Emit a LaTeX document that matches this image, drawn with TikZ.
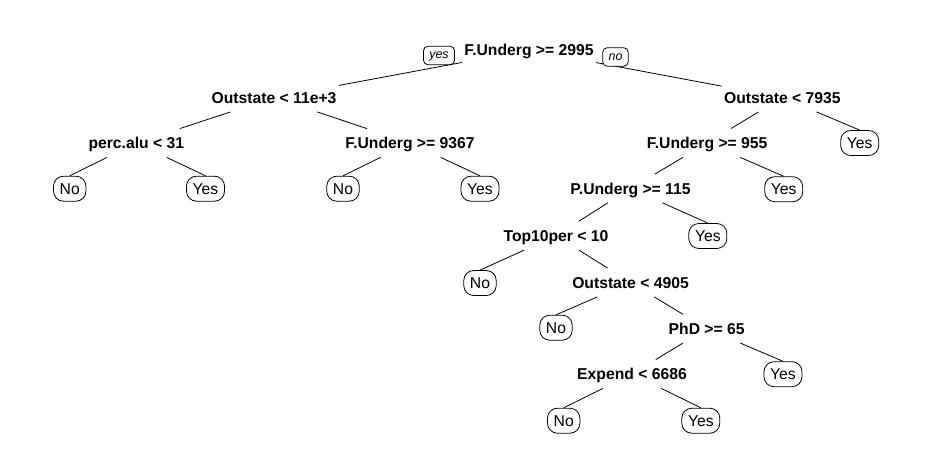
\documentclass[tikz,border=0pt]{standalone}
\usepackage{fontspec}
\setmainfont{Liberation Sans}

\begin{document}
\begin{tikzpicture}[x=1pt, y=-1pt, line width=0.8pt,
		split/.style={font=\fontsize{15.7}{18}\selectfont\bfseries, text height=11.3pt, text depth=0pt, minimum height=28pt, inner xsep=2pt, inner ysep=0pt},
		leaf/.style={draw, fill=white, rounded corners=10pt, font=\fontsize{15.7}{18}\selectfont, text height=11.3pt, text depth=0pt, minimum height=25pt, inner xsep=6.2pt, inner ysep=0pt},
		side/.style={draw, fill=white, rounded corners=4.5pt, font=\fontsize{12.5}{14}\selectfont\itshape, text height=9pt, text depth=2.5pt, minimum height=18.5pt, inner xsep=5.8pt, inner ysep=0pt}]
		%%%%% START %%%%%
		\useasboundingbox (0, 0) rectangle (932, 468);
		
		\node[split] (root) at (529, 50) {F.Underg >= 2995};
		
		\node[split] (out1) at (274, 97.5) {Outstate < 11e+3};
		\node[split] (out2) at (782.3, 97.5) {Outstate < 7935};
		
		\node[split] (perc) at (136.3, 143) {perc.alu < 31};
		\node[split] (fund1) at (410, 143) {F.Underg >= 9367};
		\node[split] (fund2) at (707.2, 143) {F.Underg >= 955};
		\node[leaf] (yesA) at (859.7, 143) {Yes};
		
		\node[leaf] (noA) at (69.7, 188.7) {No};
		\node[leaf] (yesB) at (205.5, 188.7) {Yes};
		\node[leaf] (noB) at (343, 188.7) {No};
		\node[leaf] (yesC) at (480, 188.7) {Yes};
		\node[split] (pund) at (630.5, 188.5) {P.Underg >= 115};
		\node[leaf] (yesD) at (783.7, 189.2) {Yes};
		
		\node[split] (top10) at (556, 235.7) {Top10per < 10};
		\node[leaf] (yesE) at (707.8, 236) {Yes};
		
		\node[leaf] (noC) at (480, 283) {No};
		\node[split] (out3) at (630.5, 282.5) {Outstate < 4905};
		
		\node[leaf] (noD) at (556, 327.7) {No};
		\node[split] (phd) at (706.7, 328.7) {PhD >= 65};
		
		\node[split] (exp) at (632, 374) {Expend < 6686};
		\node[leaf] (yesF) at (783, 374.2) {Yes};
		
		\node[leaf] (noE) at (563.7, 420.7) {No};
		\node[leaf] (yesG) at (700.8, 420.7) {Yes};
		
		\draw (root) -- (out1);
		\draw (root) -- (out2);
		\draw (out1) -- (perc);
		\draw (out1) -- (fund1);
		\draw (perc) -- (noA.north);
		\draw (perc) -- (yesB.north);
		\draw (fund1) -- (noB.north);
		\draw (fund1) -- (yesC.north);
		\draw (out2) -- (fund2);
		\draw (out2) -- (yesA.north);
		\draw (fund2) -- (pund);
		\draw (fund2) -- (yesD.north);
		\draw (pund) -- (top10);
		\draw (pund) -- (yesE.north);
		\draw (top10) -- (noC.north);
		\draw (top10) -- (out3);
		\draw (out3) -- (noD.north);
		\draw (out3) -- (phd);
		\draw (phd) -- (exp);
		\draw (phd) -- (yesF.north);
		\draw (exp) -- (noE.north);
		\draw (exp) -- (yesG.north);
		
		\node[side] (yes) at (439, 55.5) {yes};
		\node[side] (no) at (615.5, 57) {no};
		%%%%% END %%%%%
	\end{tikzpicture}
\end{document}
